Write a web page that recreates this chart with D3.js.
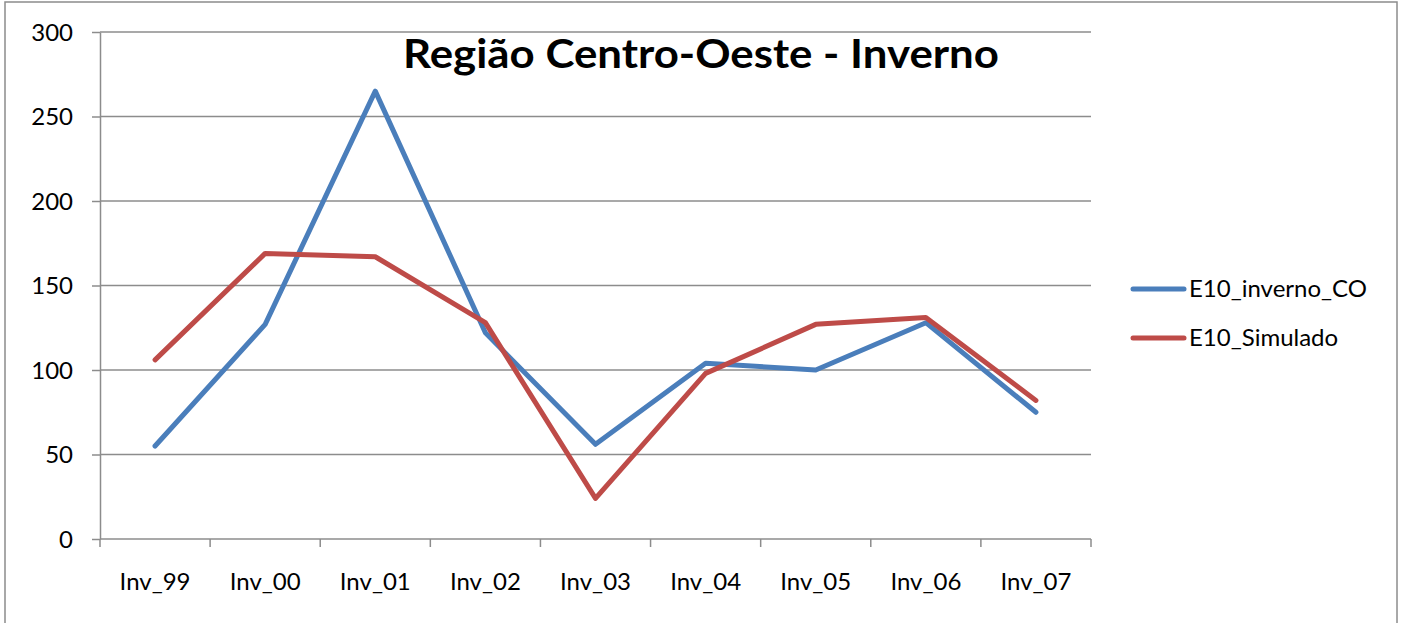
<!DOCTYPE html>
<html><head><meta charset="utf-8">
<script src="https://cdn.jsdelivr.net/npm/d3@7"></script>
<style>html,body{margin:0;padding:0;background:#fff;overflow:hidden}</style>
</head><body>
<script>
const categories = ["Inv_99","Inv_00","Inv_01","Inv_02","Inv_03","Inv_04","Inv_05","Inv_06","Inv_07"];
const seriesNames = ["E10_inverno_CO","E10_Simulado"];
const observed = [55,127,265,122,56,104,100,128,75];
const simulated = [106,169,167,128,24,98,127,131,82];
const yTicks = [0,50,100,150,200,250,300];
const title = "Região Centro-Oeste - Inverno";
const colors = ["#4a7ebb","#be4b48"];

const W=1404,H=623;
const svg=d3.select("body").append("svg").attr("width",W).attr("height",H);
const font="Lato, 'Open Sans', sans-serif";

svg.append("rect").attr("x",5).attr("y",2).attr("width",1392).attr("height",700)
  .attr("fill","#fff").attr("stroke","#8c8c8c").attr("stroke-width",1.5);

const L=100,R=1091,T=32,B=539;
const x=d3.scaleBand().domain(categories).range([L,R]);
const y=d3.scaleLinear().domain([0,300]).range([B,T]);

// gridlines
svg.append("g").selectAll("line").data(yTicks.filter(d=>d>0)).join("line")
  .attr("x1",L).attr("x2",R).attr("y1",d=>y(d)).attr("y2",d=>y(d))
  .attr("stroke","#8c8c8c").attr("stroke-width",1.5);

// y axis
const ya=svg.append("g").attr("transform",`translate(${L},0)`)
  .call(d3.axisLeft(y).tickValues(yTicks).tickSize(8).tickPadding(19).tickSizeOuter(0));
ya.select(".domain").attr("stroke","#8c8c8c").attr("stroke-width",1.5);
ya.selectAll(".tick line").attr("stroke","#8c8c8c").attr("stroke-width",1.5);
ya.selectAll("text").attr("font-family",font).attr("font-size",24).attr("fill","#000").attr("dy","0.35em");

// x axis
const xa=svg.append("g").attr("transform",`translate(0,${B})`)
  .call(d3.axisBottom(x).tickSize(0).tickPadding(0));
xa.select(".domain").remove();
xa.selectAll(".tick line").remove();
xa.selectAll("text").attr("font-family",font).attr("font-size",24).attr("fill","#000").attr("dy",null).attr("y",51);
svg.append("line").attr("x1",L).attr("x2",R).attr("y1",B).attr("y2",B).attr("stroke","#8c8c8c").attr("stroke-width",1.5);
const bounds=categories.map(c=>x(c)).concat([R]);
svg.append("g").selectAll("line").data(bounds).join("line")
  .attr("x1",d=>d).attr("x2",d=>d).attr("y1",B).attr("y2",B+8)
  .attr("stroke","#8c8c8c").attr("stroke-width",1.5);

// lines
const line=d3.line().x((d,i)=>x(categories[i])+x.bandwidth()/2).y(d=>y(d));
[observed,simulated].forEach((s,i)=>{
  svg.append("path").datum(s).attr("d",line).attr("fill","none")
    .attr("stroke",colors[i]).attr("stroke-width",5).attr("stroke-linejoin","round").attr("stroke-linecap","round");
});

// title
svg.append("text").attr("x",701).attr("y",68).attr("text-anchor","middle")
  .attr("font-family",font).attr("font-weight","bold").attr("font-size",40)
  .attr("textLength",596).attr("lengthAdjust","spacingAndGlyphs").text(title);

// legend
const lg=svg.append("g");
seriesNames.forEach((n,i)=>{
  const yy=289+i*49;
  lg.append("line").attr("x1",1133).attr("x2",1184).attr("y1",yy).attr("y2",yy)
    .attr("stroke",colors[i]).attr("stroke-width",5).attr("stroke-linecap","round");
  lg.append("text").attr("x",1189).attr("y",yy).attr("dy","0.35em")
    .attr("font-family",font).attr("font-size",24).attr("fill","#000").text(n);
});
</script>
</body></html>
